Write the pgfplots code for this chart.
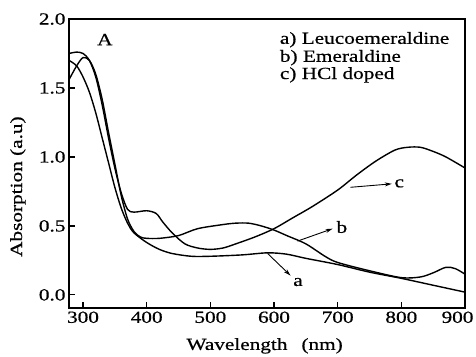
\documentclass[border=0pt]{standalone}
\usepackage{pgfplots}
\pgfplotsset{compat=1.18}
\usetikzlibrary{arrows.meta}
\usepackage{fontspec}
\setmainfont{Liberation Serif}[FakeStretch=1.25, FakeBold=0.6]
\newcommand{\fs}{\fontsize{17}{18.5}\selectfont}
\begin{document}
\begin{tikzpicture}
\begin{axis}[
 scale only axis, width=396pt, height=289pt,
 xmin=278, xmax=900, ymin=-0.095, ymax=2.0,
 xtick={300,400,...,900}, ytick={0,0.5,1.0,1.5,2.0},
 xticklabels={300,400,500,600,700,800,\hspace*{-15pt}900},
 tick align=inside, xtick pos=left, ytick pos=left,
 major tick length=6pt,
 axis line style={line width=1.2pt},
 tick style={line width=1.2pt, black},
 /pgf/number format/assume math mode=true,
 yticklabel style={/pgf/number format/fixed, /pgf/number format/fixed zerofill, /pgf/number format/precision=1},
 tick label style={font=\fs},
 label style={font=\fs},
 xlabel={Wavelength\hspace{14pt}(nm)},
 ylabel={Absorption (a.u)},
 xlabel style={at={(axis description cs:0.494,-0.131)}, anchor=center},
 ylabel style={at={(axis description cs:-0.129,0.42)}, anchor=center},
]
% a) Leucoemeraldine
\addplot[black, no markers, smooth, line width=1.4pt] coordinates {(278,1.70)(290,1.66)(300,1.58)(310,1.47)(320,1.32)(330,1.14)(340,0.96)(350,0.78)(360,0.63)(370,0.52)(380,0.45)(400,0.38)(420,0.33)(440,0.30)(470,0.28)(500,0.28)(550,0.29)(590,0.305)(620,0.295)(650,0.265)(700,0.22)(750,0.165)(800,0.12)(850,0.07)(900,0.02)};
% b) Emeraldine
\addplot[black, no markers, smooth, line width=1.4pt] coordinates {(278,1.56)(290,1.66)(300,1.72)(310,1.70)(320,1.60)(330,1.42)(340,1.18)(350,0.95)(360,0.72)(370,0.55)(380,0.46)(390,0.42)(400,0.41)(420,0.41)(450,0.43)(480,0.48)(520,0.51)(540,0.52)(560,0.52)(580,0.50)(600,0.47)(620,0.43)(650,0.37)(680,0.28)(700,0.235)(750,0.175)(800,0.125)(830,0.13)(850,0.16)(870,0.20)(885,0.19)(900,0.15)};
% c) HCl doped
\addplot[black, no markers, smooth, line width=1.4pt] coordinates {(278,1.75)(290,1.76)(300,1.75)(310,1.70)(320,1.58)(330,1.38)(340,1.14)(350,0.92)(360,0.74)(370,0.62)(380,0.60)(400,0.61)(415,0.59)(425,0.53)(440,0.45)(460,0.37)(480,0.34)(500,0.33)(520,0.34)(540,0.37)(570,0.42)(600,0.48)(630,0.56)(660,0.64)(700,0.76)(730,0.87)(760,0.97)(790,1.05)(810,1.07)(830,1.07)(850,1.04)(870,1.00)(900,0.92)};
\node[anchor=base west, inner sep=0, font=\fs] at (axis cs:322,1.81) {A};
\node[anchor=base west, inner sep=0, font=\fs] at (axis cs:609,1.82) {a) Leucoemeraldine};
\node[anchor=base west, inner sep=0, font=\fs] at (axis cs:609,1.69) {b) Emeraldine};
\node[anchor=base west, inner sep=0, font=\fs] at (axis cs:609,1.565) {c) HCl doped};
\node[anchor=base west, inner sep=0, font=\fs] at (axis cs:789,0.78) {c};
\node[anchor=base west, inner sep=0, font=\fs] at (axis cs:698,0.45) {b};
\node[anchor=base west, inner sep=0, font=\fs] at (axis cs:630,0.065) {a};
\draw[-{Stealth[length=7pt,width=4pt]}, line width=0.9pt] (axis cs:720,0.78) -- (axis cs:785,0.805);
\draw[-{Stealth[length=7pt,width=4pt]}, line width=0.9pt] (axis cs:637,0.39) -- (axis cs:692,0.48);
\draw[-{Stealth[length=7pt,width=4pt]}, line width=0.9pt] (axis cs:590,0.30) -- (axis cs:626,0.14);
\end{axis}
\pgfresetboundingbox
\path ([shift={(-69pt,-48pt)}]current axis.south west) rectangle ([shift={(11pt,19pt)}]current axis.north east);
\end{tikzpicture}
\end{document}
